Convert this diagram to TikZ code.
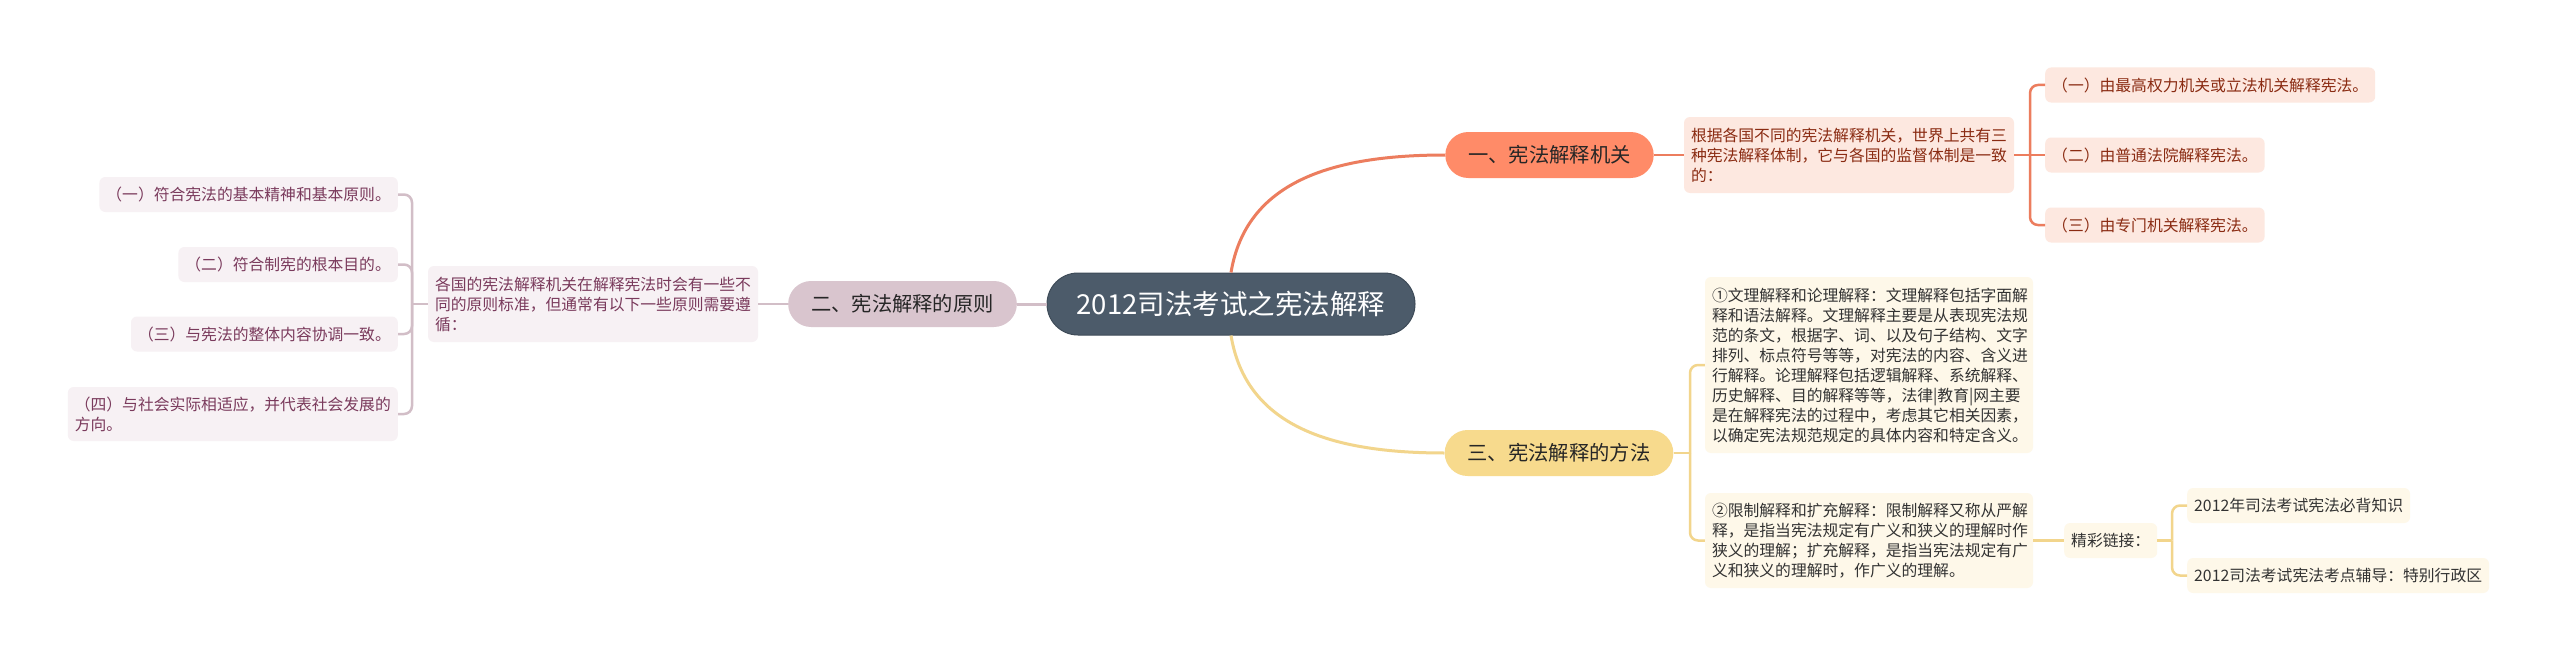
\documentclass[tikz,border=0pt]{standalone}
\usepackage{fontspec}
\setmainfont{Noto Sans CJK SC}
\definecolor{rootf}{HTML}{4C5B6A}
\definecolor{rootd}{HTML}{3E4B58}
\definecolor{oF}{HTML}{FF8B68}
\definecolor{oL}{HTML}{EC7D5E}
\definecolor{oS}{HTML}{FDE8E0}
\definecolor{oT}{HTML}{8A2B12}
\definecolor{pF}{HTML}{D9C5CE}
\definecolor{pL}{HTML}{D2BEC7}
\definecolor{pS}{HTML}{F7F1F4}
\definecolor{pT}{HTML}{7A3A5C}
\definecolor{yF}{HTML}{F7DA8D}
\definecolor{yL}{HTML}{F2D58C}
\definecolor{yS}{HTML}{FEF8E9}
\definecolor{yT}{HTML}{333333}
\tikzset{
  rootn/.style={fill=rootf, draw=rootd, line width=1, rounded corners=31,
    minimum width=368, minimum height=62, inner sep=0, text=white,
    font=\fontsize{27.5}{32}\selectfont},
  branch/.style={rounded corners=23, minimum height=46, inner xsep=23,
    inner ysep=0, text=black!85, font=\fontsize{20.3}{24}\selectfont},
  sub/.style={rounded corners=6, inner xsep=7, inner ysep=0, align=left,
    font=\fontsize{15.8}{20}\selectfont},
  leafbox/.style={sub, minimum height=35},
  oBox/.style={fill=oS, text=oT},
  pBox/.style={fill=pS, text=pT},
  yBox/.style={fill=yS, text=yT},
  mainline/.style={line width=3},
  brk/.style={line width=2.5, rounded corners=8},
}
\begin{document}
\begin{tikzpicture}[x=1pt,y=-1pt]
\useasboundingbox[fill=white] (0,0) rectangle (2560,661);

% root and branches
\node[rootn] (root) at (1231,304) {2012司法考试之宪法解释};
\node[branch, fill=oF] (b1) at (1549.5,155) {一、宪法解释机关};
\node[branch, fill=pF] (b2) at (902.5,304) {二、宪法解释的原则};
\node[branch, fill=yF] (b3) at (1559,453) {三、宪法解释的方法};

% branch 1 content
\node[sub, oBox, minimum width=330, minimum height=76, text width=316] (c1) at (1849,155)
  {根据各国不同的宪法解释机关，世界上共有三\\种宪法解释体制，它与各国的监督体制是一致\\的：};
\node[leafbox, oBox, anchor=west] (l11) at (2045,85) {（一）由最高权力机关或立法机关解释宪法。};
\node[leafbox, oBox, anchor=west] (l12) at (2045,155) {（二）由普通法院解释宪法。};
\node[leafbox, oBox, anchor=west] (l13) at (2045,225) {（三）由专门机关解释宪法。};

% branch 2 content
\node[sub, pBox, minimum width=330, minimum height=76, text width=316] (c2) at (593,304)
  {各国的宪法解释机关在解释宪法时会有一些不\\同的原则标准，但通常有以下一些原则需要遵\\循：};
\node[leafbox, pBox, anchor=east] (l21) at (398,194.5) {（一）符合宪法的基本精神和基本原则。};
\node[leafbox, pBox, anchor=east] (l22) at (398,264.5) {（二）符合制宪的根本目的。};
\node[leafbox, pBox, anchor=east] (l23) at (398,334) {（三）与宪法的整体内容协调一致。};
\node[sub, pBox, anchor=east, minimum height=54] (l24) at (398,414) {（四）与社会实际相适应，并代表社会发展的\\方向。};

% branch 3 content
\node[sub, yBox, minimum width=328, minimum height=176, text width=314] (c31) at (1869,365)
  {①文理解释和论理解释：文理解释包括字面解\\释和语法解释。文理解释主要是从表现宪法规\\范的条文，根据字、词、以及句子结构、文字\\排列、标点符号等等，对宪法的内容、含义进\\行解释。论理解释包括逻辑解释、系统解释、\\历史解释、目的解释等等，法律|教育|网主要\\是在解释宪法的过程中，考虑其它相关因素，\\以确定宪法规范规定的具体内容和特定含义。};
\node[sub, yBox, minimum width=328, minimum height=95, text width=314] (c32) at (1869,540.5)
  {②限制解释和扩充解释：限制解释又称从严解\\释，是指当宪法规定有广义和狭义的理解时作\\狭义的理解；扩充解释，是指当宪法规定有广\\义和狭义的理解时，作广义的理解。};
\node[leafbox, yBox, anchor=west] (lk) at (2064,540.5) {精彩链接：};
\node[leafbox, yBox, anchor=west] (lk1) at (2187,505.5) {2012年司法考试宪法必背知识};
\node[leafbox, yBox, anchor=west] (lk2) at (2187,575.5) {2012司法考试宪法考点辅导：特别行政区};

% hubs
\coordinate (h1) at (2030,155);
\coordinate (h2) at (412,304);
\coordinate (h3) at (1690,453);
\coordinate (h4) at (2172,540.5);

% connectors
\draw[mainline, oL] (root.north) .. controls +(15,-90) and +(-115,0) .. (b1.west);
\draw[mainline, yL] (root.south) .. controls +(15,90) and +(-115,0) .. (b3.west);
\draw[mainline, pL] (b2.east) -- (root.west);

\draw[brk, oL] (b1.east) -- (c1.west);
\draw[brk, oL] (c1.east) -- (h1);
\draw[brk, oL] (h1) |- (l11.west);
\draw[brk, oL] (h1) -- (l12.west);
\draw[brk, oL] (h1) |- (l13.west);

\draw[brk, pL] (c2.east) -- (b2.west);
\draw[brk, pL] (h2) -- (c2.west);
\draw[brk, pL] (h2) |- (l21.east);
\draw[brk, pL] (h2) |- (l22.east);
\draw[brk, pL] (h2) |- (l23.east);
\draw[brk, pL] (h2) |- (l24.east);

\draw[brk, yL] (b3.east) -- (h3);
\draw[brk, yL] (h3) |- (c31.west);
\draw[brk, yL] (h3) |- (c32.west);
\draw[brk, yL] (c32.east) -- (lk.west);
\draw[brk, yL] (lk.east) -- (h4);
\draw[brk, yL] (h4) |- (lk1.west);
\draw[brk, yL] (h4) |- (lk2.west);
\end{tikzpicture}
\end{document}
